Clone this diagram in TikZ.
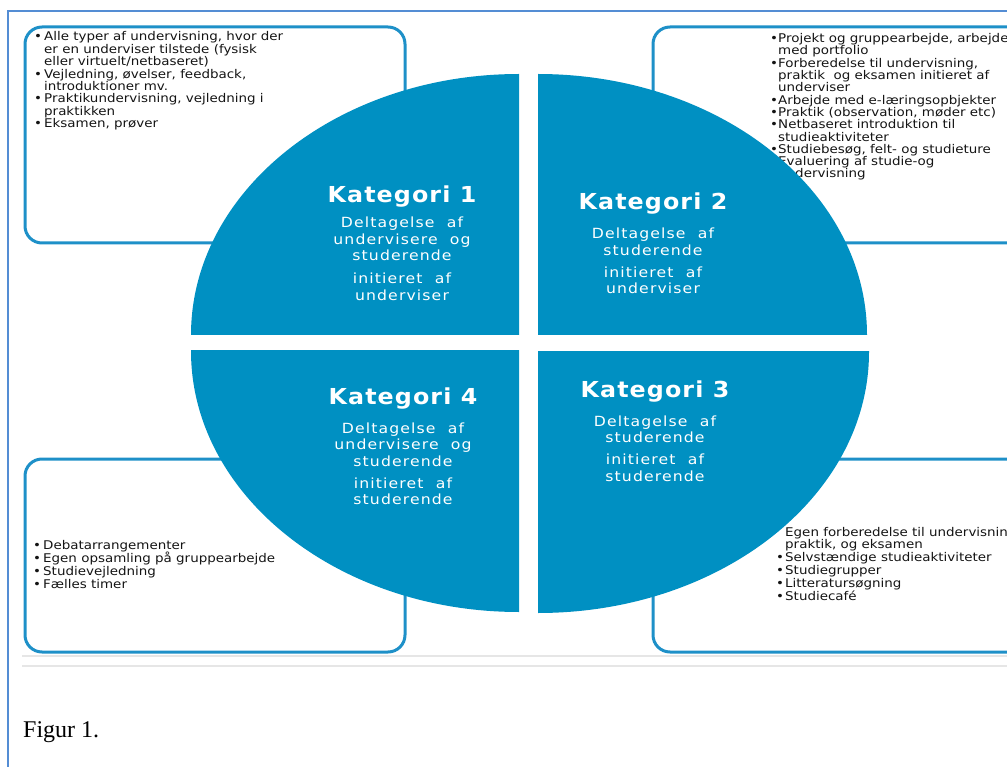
\documentclass[tikz,border=0pt]{standalone}
\usepackage{fontspec}
\setmainfont{Liberation Serif}
\newfontfamily\boxfont[FakeStretch=1.12]{DejaVu Sans}
\newfontfamily\headfont[FakeStretch=1.08,LetterSpace=5]{DejaVu Sans}
\newfontfamily\subfont[FakeStretch=1.12,LetterSpace=8]{DejaVu Sans}
\definecolor{framecol}{HTML}{548DD4}
\definecolor{boxcol}{HTML}{1E90C8}
\definecolor{quadcol}{HTML}{0090C2}
\definecolor{rulecol}{HTML}{E6E6E6}
\definecolor{txtcol}{HTML}{141414}
\newcommand\bl[1]{\makebox[#1][l]{\textbullet}}
\newcommand\nb[1]{\makebox[#1][l]{}}
\begin{document}
\begin{tikzpicture}[x=1pt,y=-1pt,
  infobox/.style={draw=boxcol,line width=3pt,rounded corners=17pt},
  quad/.style={fill=quadcol},
  boxtext/.style={anchor=base west,inner sep=0pt,text=txtcol},
  headtext/.style={anchor=base,inner sep=0pt,text=white,font=\headfont\bfseries\fontsize{22}{26}\selectfont},
  subtext/.style={anchor=base,inner sep=0pt,text=white}]
\useasboundingbox (0,0) rectangle (1007,767);
% page frame
\draw[framecol,line width=2.5pt] (8,775) -- (8,11) -- (1015,11);
% grey rules
\draw[rulecol,line width=2.5pt] (22,656) -- (1015,656);
\draw[rulecol,line width=2.5pt] (22,666) -- (1015,666);
% boxes
\draw[infobox] (25,27) rectangle (405,243);
\draw[infobox] (653,27) rectangle (1040,243);
\draw[infobox] (25,459) rectangle (405,652);
\draw[infobox] (653,459) rectangle (1040,652);
% box texts
\node[boxtext] (tltext) at (34,41) {\parbox[t]{370pt}{\boxfont\fontsize{12}{12.4}\selectfont
\bl{10pt}Alle typer af undervisning, hvor der\\
\nb{10pt}er en underviser tilstede (fysisk\\
\nb{10pt}eller virtuelt/netbaseret)\\
\bl{10pt}Vejledning, øvelser, feedback,\\
\nb{10pt}introduktioner mv.\\
\bl{10pt}Praktikundervisning, vejledning i\\
\nb{10pt}praktikken\\
\bl{10pt}Eksamen, prøver}};
\node[boxtext] (trtext) at (770,42.7) {\parbox[t]{300pt}{\boxfont\fontsize{12}{12.3}\selectfont
\bl{8pt}Projekt og gruppearbejde, arbejde\\
\nb{8pt}med portfolio\\
\bl{8pt}Forberedelse til undervisning,\\
\nb{8pt}praktik\ \ og eksamen initieret af\\
\nb{8pt}underviser\\
\bl{8pt}Arbejde med e-læringsopbjekter\\
\bl{8pt}Praktik (observation, møder etc)\\
\bl{8pt}Netbaseret introduktion til\\
\nb{8pt}studieaktiviteter\\
\bl{8pt}Studiebesøg, felt- og studieture\\
\bl{8pt}Evaluering af studie-og\\
\nb{8pt}undervisning}};
\node[boxtext] (bltext) at (33,549) {\parbox[t]{370pt}{\boxfont\fontsize{12}{13.3}\selectfont
\bl{10pt}Debatarrangementer\\
\bl{10pt}Egen opsamling på gruppearbejde\\
\bl{10pt}Studievejledning\\
\bl{10pt}Fælles timer}};
\node[boxtext] (brtext) at (776,536) {\parbox[t]{300pt}{\boxfont\fontsize{12}{12.8}\selectfont
\nb{9pt}Egen forberedelse til undervisning,\\
\nb{9pt}praktik, og eksamen\\
\bl{9pt}Selvstændige studieaktiviteter\\
\bl{9pt}Studiegrupper\\
\bl{9pt}Litteratursøgning\\
\bl{9pt}Studiecafé}};
% quadrants
\begin{scope}
\clip (150,40) rectangle (519,335);
\fill[quad] (519,335) ellipse [x radius=328, y radius=261];
\end{scope}
\begin{scope}
\clip (538,40) rectangle (900,335);
\fill[quad] (538,335) ellipse [x radius=329, y radius=261];
\end{scope}
\begin{scope}
\clip (150,351) rectangle (519,640);
\fill[quad] (519,351) ellipse [x radius=328, y radius=261];
\end{scope}
\begin{scope}
\clip (538,352) rectangle (900,640);
\fill[quad] (538,352) ellipse [x radius=331, y radius=261];
\end{scope}
% category texts
\node[headtext] (k1) at (402,203) {Kategori 1};
\node[subtext] (s1) at (402,228) {\parbox[t]{220pt}{\centering\subfont\fontsize{14}{16.5}\selectfont
Deltagelse\ \ af\\ undervisere\ \ og\\ studerende\\[6.5pt] initieret\ \ af\\ underviser}};
\node[headtext] (k2) at (653,210) {Kategori 2};
\node[subtext] (s2) at (653,239) {\parbox[t]{220pt}{\centering\subfont\fontsize{14}{16.5}\selectfont
Deltagelse\ \ af\\ studerende\\[5.5pt] initieret\ \ af\\ underviser}};
\node[headtext] (k4) at (403,404) {Kategori 4};
\node[subtext] (s4) at (403,433) {\parbox[t]{220pt}{\centering\subfont\fontsize{14}{16.5}\selectfont
Deltagelse\ \ af\\ undervisere\ \ og\\ studerende\\[5.5pt] initieret\ \ af\\ studerende}};
\node[headtext] (k3) at (655,397) {Kategori 3};
\node[subtext] (s3) at (655,426) {\parbox[t]{220pt}{\centering\subfont\fontsize{14}{16.5}\selectfont
Deltagelse\ \ af\\ studerende\\[5.5pt] initieret\ \ af\\ studerende}};
% caption
\node[anchor=base west,inner sep=0pt,font=\fontsize{24}{28}\selectfont] (cap) at (23,737) {Figur 1.};
\end{tikzpicture}
\end{document}
